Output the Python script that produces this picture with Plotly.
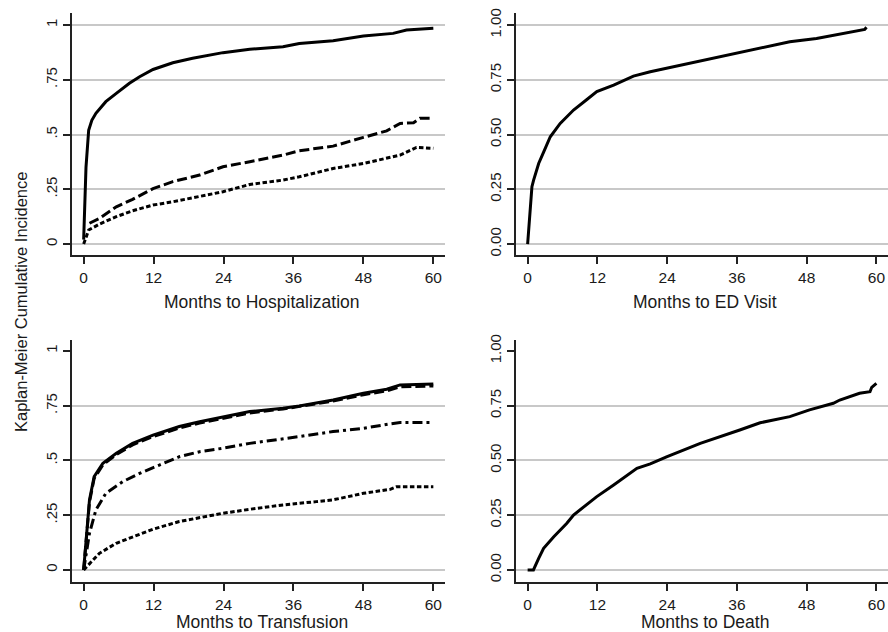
import plotly.graph_objects as go

# ---------------- data ----------------
# Panel 1: Months to Hospitalization
hosp_solid_x = [0, 0.4, 0.86, 1.4, 2.1, 3.0, 3.8, 5.6, 7.85, 9.6, 11.9, 15.3, 18.7, 23.9, 28.5, 34.2, 37, 42.8, 48, 53.1, 55.4, 60]
hosp_solid_y = [0.02, 0.35, 0.52, 0.565, 0.597, 0.627, 0.65, 0.688, 0.734, 0.764, 0.797, 0.828, 0.848, 0.874, 0.889, 0.901, 0.916, 0.928, 0.95, 0.962, 0.977, 0.985]
hosp_dash_x = [1.0, 2.7, 5.6, 8.4, 11.9, 15.3, 19.9, 23.9, 28.5, 34.2, 37, 42.8, 48, 52, 54.3, 56.6, 57.7, 60]
hosp_dash_y = [0.095, 0.117, 0.17, 0.204, 0.253, 0.285, 0.315, 0.353, 0.376, 0.406, 0.426, 0.447, 0.487, 0.517, 0.551, 0.554, 0.574, 0.574]
hosp_dot_x = [0, 0.86, 2.7, 5.6, 8.4, 11.9, 15.3, 19.9, 23.9, 28.5, 34.2, 37, 42.8, 48, 54.3, 57.1, 60]
hosp_dot_y = [0, 0.064, 0.091, 0.125, 0.152, 0.178, 0.193, 0.216, 0.239, 0.272, 0.292, 0.307, 0.345, 0.368, 0.406, 0.441, 0.437]

# Panel 2: Months to ED Visit
ed_x = [0, 0.34, 0.74, 1.03, 1.9, 2.75, 3.9, 5.6, 7.9, 10.2, 11.9, 14.8, 18.2, 21.1, 25.1, 30.8, 34.8, 39.4, 45.1, 49.7, 54.3, 57.1, 58.0, 58.3]
ed_y = [0, 0.14, 0.262, 0.292, 0.368, 0.42, 0.49, 0.551, 0.612, 0.66, 0.696, 0.726, 0.767, 0.787, 0.81, 0.84, 0.863, 0.889, 0.924, 0.939, 0.962, 0.974, 0.98, 0.99]

# Panel 3: Months to Transfusion
tr_solid_x = [0, 0.5, 1.0, 1.8, 3.3, 5.6, 8.4, 11.9, 16.4, 19.9, 23.9, 28.5, 34.2, 37, 42.8, 48, 52, 54.3, 60]
tr_solid_y = [0, 0.167, 0.32, 0.426, 0.487, 0.533, 0.578, 0.616, 0.655, 0.677, 0.7, 0.723, 0.738, 0.749, 0.776, 0.807, 0.825, 0.845, 0.849]
tr_dash_x = [0, 0.5, 1.0, 1.8, 3.3, 5.6, 8.4, 11.9, 16.4, 19.9, 23.9, 28.5, 34.2, 37, 42.8, 48, 52, 54.3, 60]
tr_dash_y = [0, 0.16, 0.31, 0.418, 0.48, 0.527, 0.571, 0.609, 0.648, 0.671, 0.694, 0.717, 0.735, 0.746, 0.771, 0.8, 0.818, 0.836, 0.84]
tr_dashdot_x = [0, 1.0, 2.1, 3.8, 6.7, 9.6, 13, 16.4, 19.9, 23.9, 28.5, 34.2, 37, 42.8, 48, 52.6, 54.3, 60]
tr_dashdot_y = [0, 0.167, 0.274, 0.35, 0.403, 0.441, 0.479, 0.517, 0.54, 0.556, 0.578, 0.601, 0.609, 0.632, 0.647, 0.667, 0.673, 0.673]
tr_dot_x = [0, 1.0, 2.7, 5.6, 8.4, 11.9, 16.4, 19.9, 23.9, 28.5, 34.2, 39.9, 42.8, 48, 52.6, 53.7, 60]
tr_dot_y = [0, 0.03, 0.076, 0.122, 0.152, 0.186, 0.221, 0.24, 0.259, 0.277, 0.297, 0.312, 0.32, 0.35, 0.368, 0.38, 0.38]

# Panel 4: Months to Death
death_x = [0, 1.0, 1.9, 2.75, 4.5, 6.75, 7.9, 11.9, 14.8, 18.8, 21.1, 24, 29.7, 33.7, 36.5, 40, 45.1, 48.5, 52.6, 53.7, 57.1, 58.9, 59.2, 60]
death_y = [0, 0, 0.053, 0.099, 0.152, 0.213, 0.251, 0.335, 0.388, 0.464, 0.484, 0.517, 0.578, 0.616, 0.639, 0.672, 0.7, 0.731, 0.761, 0.776, 0.807, 0.814, 0.834, 0.852]

x_ticks = [0, 12, 24, 36, 48, 60]
y_ticks = [0, 0.25, 0.5, 0.75, 1]
y_labels_left = ["0", ".25", ".5", ".75", "1"]
y_labels_right = ["0.00", "0.25", "0.50", "0.75", "1.00"]
x_titles = ["Months to Hospitalization", "Months to ED Visit", "Months to Transfusion", "Months to Death"]
y_title = "Kaplan-Meier Cumulative Incidence"

# ---------------- figure ----------------
W, H = 888, 632
FONT = "Liberation Sans, Arial, sans-serif"
TXT = "#1a1a1a"

fig = go.Figure()

SOLID = "solid"
LDASH = "10px,4px"
SDASH = "4.5px,2.5px"
DDOT = "10px,4px,3px,4px"
LW = 3

def add(x, y, dash, xa, ya):
    fig.add_trace(go.Scatter(x=x, y=y, mode="lines", xaxis=xa, yaxis=ya,
                             line=dict(color="black", width=LW, dash=dash),
                             showlegend=False, hoverinfo="skip"))

add(hosp_solid_x, hosp_solid_y, SOLID, "x", "y")
add(hosp_dash_x, hosp_dash_y, LDASH, "x", "y")
add(hosp_dot_x, hosp_dot_y, SDASH, "x", "y")
add(ed_x, ed_y, SOLID, "x2", "y2")
add(tr_solid_x, tr_solid_y, SOLID, "x3", "y3")
add(tr_dash_x, tr_dash_y, LDASH, "x3", "y3")
add(tr_dashdot_x, tr_dashdot_y, DDOT, "x3", "y3")
add(tr_dot_x, tr_dot_y, SDASH, "x3", "y3")
add(death_x, death_y, SOLID, "x4", "y4")

def px_x(p):
    return p / W

def px_y(p):
    return 1 - p / H

xdom_left = [px_x(72), px_x(445)]
xdom_right = [px_x(516), px_x(888)]
ydom_top = [px_y(255), px_y(13)]
ydom_bot = [px_y(582), px_y(340)]

common_x = dict(range=[-2, 62], tickvals=x_ticks, showline=True, linecolor="#222", linewidth=2,
                ticks="outside", ticklen=7, tickwidth=1.5, tickcolor="#222", showgrid=False,
                zeroline=False, tickfont=dict(family=FONT, size=15.5, color=TXT), fixedrange=True)
common_y = dict(tickvals=y_ticks, showline=True, linecolor="#222", linewidth=2,
                ticks="outside", ticklen=7, tickwidth=1.5, tickcolor="#222",
                gridcolor="#c8c8c8", gridwidth=1.5, zeroline=False, tickangle=-90,
                tickfont=dict(family=FONT, size=15, color=TXT), fixedrange=True)

grid_minor = dict(tickvals=[0, 0.25, 0.5, 0.75], showgrid=True, gridcolor="#c8c8c8", gridwidth=1.5, ticks="")

fig.update_layout(
    width=W, height=H, margin=dict(l=0, r=0, t=0, b=0, autoexpand=False),
    paper_bgcolor="white", plot_bgcolor="white",
    xaxis=dict(common_x, domain=xdom_left, anchor="y"),
    yaxis=dict(common_y, domain=ydom_top, anchor="x", range=[-0.05, 1.055], ticktext=y_labels_left),
    xaxis2=dict(common_x, domain=xdom_right, anchor="y2"),
    yaxis2=dict(common_y, domain=ydom_top, anchor="x2", range=[-0.05, 1.055], ticktext=y_labels_right),
    xaxis3=dict(common_x, domain=xdom_left, anchor="y3"),
    yaxis3=dict(common_y, domain=ydom_bot, anchor="x3", range=[-0.055, 1.05], ticktext=y_labels_left,
                showgrid=False, minor=grid_minor),
    xaxis4=dict(common_x, domain=xdom_right, anchor="y4"),
    yaxis4=dict(common_y, domain=ydom_bot, anchor="x4", range=[-0.055, 1.05], ticktext=y_labels_right,
                showgrid=False, minor=grid_minor),
)

ann = []
title_pos = [((72 + 445) / 2, 302), ((516 + 888) / 2, 302), ((72 + 445) / 2, 622), ((516 + 888) / 2, 622)]
for t, (cx, cy) in zip(x_titles, title_pos):
    ann.append(dict(text=t, x=px_x(cx + 3), y=px_y(cy), xref="paper", yref="paper",
                    showarrow=False, xanchor="center", yanchor="middle",
                    font=dict(family=FONT, size=17.5, color=TXT)))
ann.append(dict(text=y_title, x=px_x(21), y=px_y(302), xref="paper", yref="paper", textangle=-90,
                showarrow=False, xanchor="center", yanchor="middle",
                font=dict(family=FONT, size=16.5, color=TXT)))
fig.update_layout(annotations=ann)

fig.write_html("out.html", config={"displayModeBar": False},
               post_script="document.body.style.margin='0px';document.body.style.overflow='hidden';")
